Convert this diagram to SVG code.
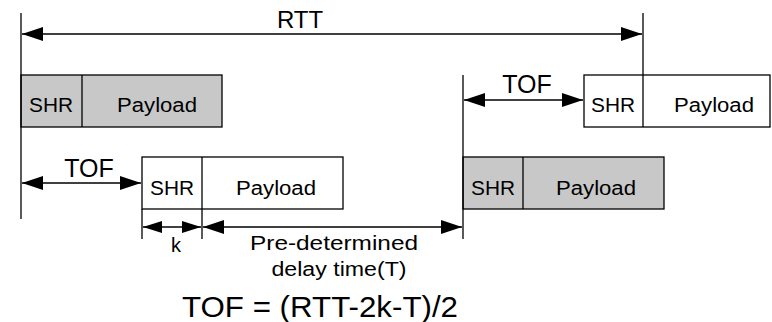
<svg xmlns="http://www.w3.org/2000/svg" width="772" height="322" viewBox="0 0 772 322">
<defs>
<style>
.ln{stroke:#000;stroke-width:1.3;fill:none}
.box{stroke:#000;stroke-width:1.3}
.g{fill:#c8c8c8}
.w{fill:#fff}
text{font-family:"Liberation Sans",Arial,sans-serif;fill:#000;text-anchor:middle}
.bt{font-size:20px}
.lb{font-size:25px}
.sm{font-size:20px}
.ar{stroke:#000;stroke-width:1.3;fill:none;marker-start:url(#hs);marker-end:url(#he)}
.ars{stroke:#000;stroke-width:1.3;fill:none;marker-start:url(#hss);marker-end:url(#hes)}
</style>
<marker id="he" markerUnits="userSpaceOnUse" markerWidth="22" markerHeight="14" refX="21" refY="7" orient="auto"><path d="M0,0 L21,7 L0,14 Z" fill="#000"/></marker>
<marker id="hs" markerUnits="userSpaceOnUse" markerWidth="22" markerHeight="14" refX="0" refY="7" orient="auto"><path d="M21,0 L0,7 L21,14 Z" fill="#000"/></marker>
<marker id="hes" markerUnits="userSpaceOnUse" markerWidth="20" markerHeight="14" refX="19" refY="7" orient="auto"><path d="M0,1 L19,7 L0,13 Z" fill="#000"/></marker>
<marker id="hss" markerUnits="userSpaceOnUse" markerWidth="20" markerHeight="14" refX="0" refY="7" orient="auto"><path d="M19,1 L0,7 L19,13 Z" fill="#000"/></marker>
</defs>
<g id="frame1">
<rect class="box g" x="21" y="75" width="201" height="52"/>
<line class="ln" x1="82" y1="75" x2="82" y2="127"/>
<text class="bt" x="51" y="112" textLength="44" lengthAdjust="spacingAndGlyphs">SHR</text>
<text class="bt" x="157" y="112" textLength="80" lengthAdjust="spacingAndGlyphs">Payload</text>
</g>
<g id="frame2">
<rect class="box w" x="142" y="157" width="201" height="52"/>
<line class="ln" x1="202" y1="157" x2="202" y2="209"/>
<text class="bt" x="172" y="195" textLength="44" lengthAdjust="spacingAndGlyphs">SHR</text>
<text class="bt" x="276" y="195" textLength="80" lengthAdjust="spacingAndGlyphs">Payload</text>
</g>
<g id="frame3">
<rect class="box w" x="584" y="75" width="186" height="52"/>
<line class="ln" x1="643" y1="75" x2="643" y2="127"/>
<text class="bt" x="613" y="112" textLength="44" lengthAdjust="spacingAndGlyphs">SHR</text>
<text class="bt" x="714" y="112" textLength="80" lengthAdjust="spacingAndGlyphs">Payload</text>
</g>
<g id="frame4">
<rect class="box g" x="463" y="157" width="201" height="52"/>
<line class="ln" x1="523" y1="157" x2="523" y2="209"/>
<text class="bt" x="493" y="195" textLength="44" lengthAdjust="spacingAndGlyphs">SHR</text>
<text class="bt" x="596" y="195" textLength="80" lengthAdjust="spacingAndGlyphs">Payload</text>
</g>
<g id="connectors">
<line class="ln" x1="21" y1="13" x2="21" y2="219"/>
<line class="ln" x1="643" y1="13" x2="643" y2="75"/>
<line class="ln" x1="463" y1="75" x2="463" y2="239"/>
<line class="ln" x1="142" y1="209" x2="142" y2="239"/>
<line class="ln" x1="202" y1="209" x2="202" y2="239"/>
<line class="ar" x1="22" y1="34" x2="642" y2="34"/>
<line class="ar" x1="22" y1="183" x2="141" y2="183"/>
<line class="ar" x1="464" y1="100" x2="583" y2="100"/>
<line class="ars" x1="143" y1="227" x2="201" y2="227"/>
<line class="ar" x1="203" y1="227" x2="462" y2="227"/>
</g>
<g id="labels">
<text class="lb" x="300" y="28" style="font-size:24px">RTT</text>
<text class="lb" x="89" y="177">TOF</text>
<text class="lb" x="527" y="93">TOF</text>
<text class="sm" x="176" y="252">k</text>
<text class="sm" x="334" y="250" textLength="168" lengthAdjust="spacingAndGlyphs">Pre-determined</text>
<text class="sm" x="339" y="276" textLength="135" lengthAdjust="spacingAndGlyphs">delay time(T)</text>
<text style="font-size:29px" x="320" y="317" textLength="276" lengthAdjust="spacingAndGlyphs">TOF = (RTT-2k-T)/2</text>
</g>
</svg>
